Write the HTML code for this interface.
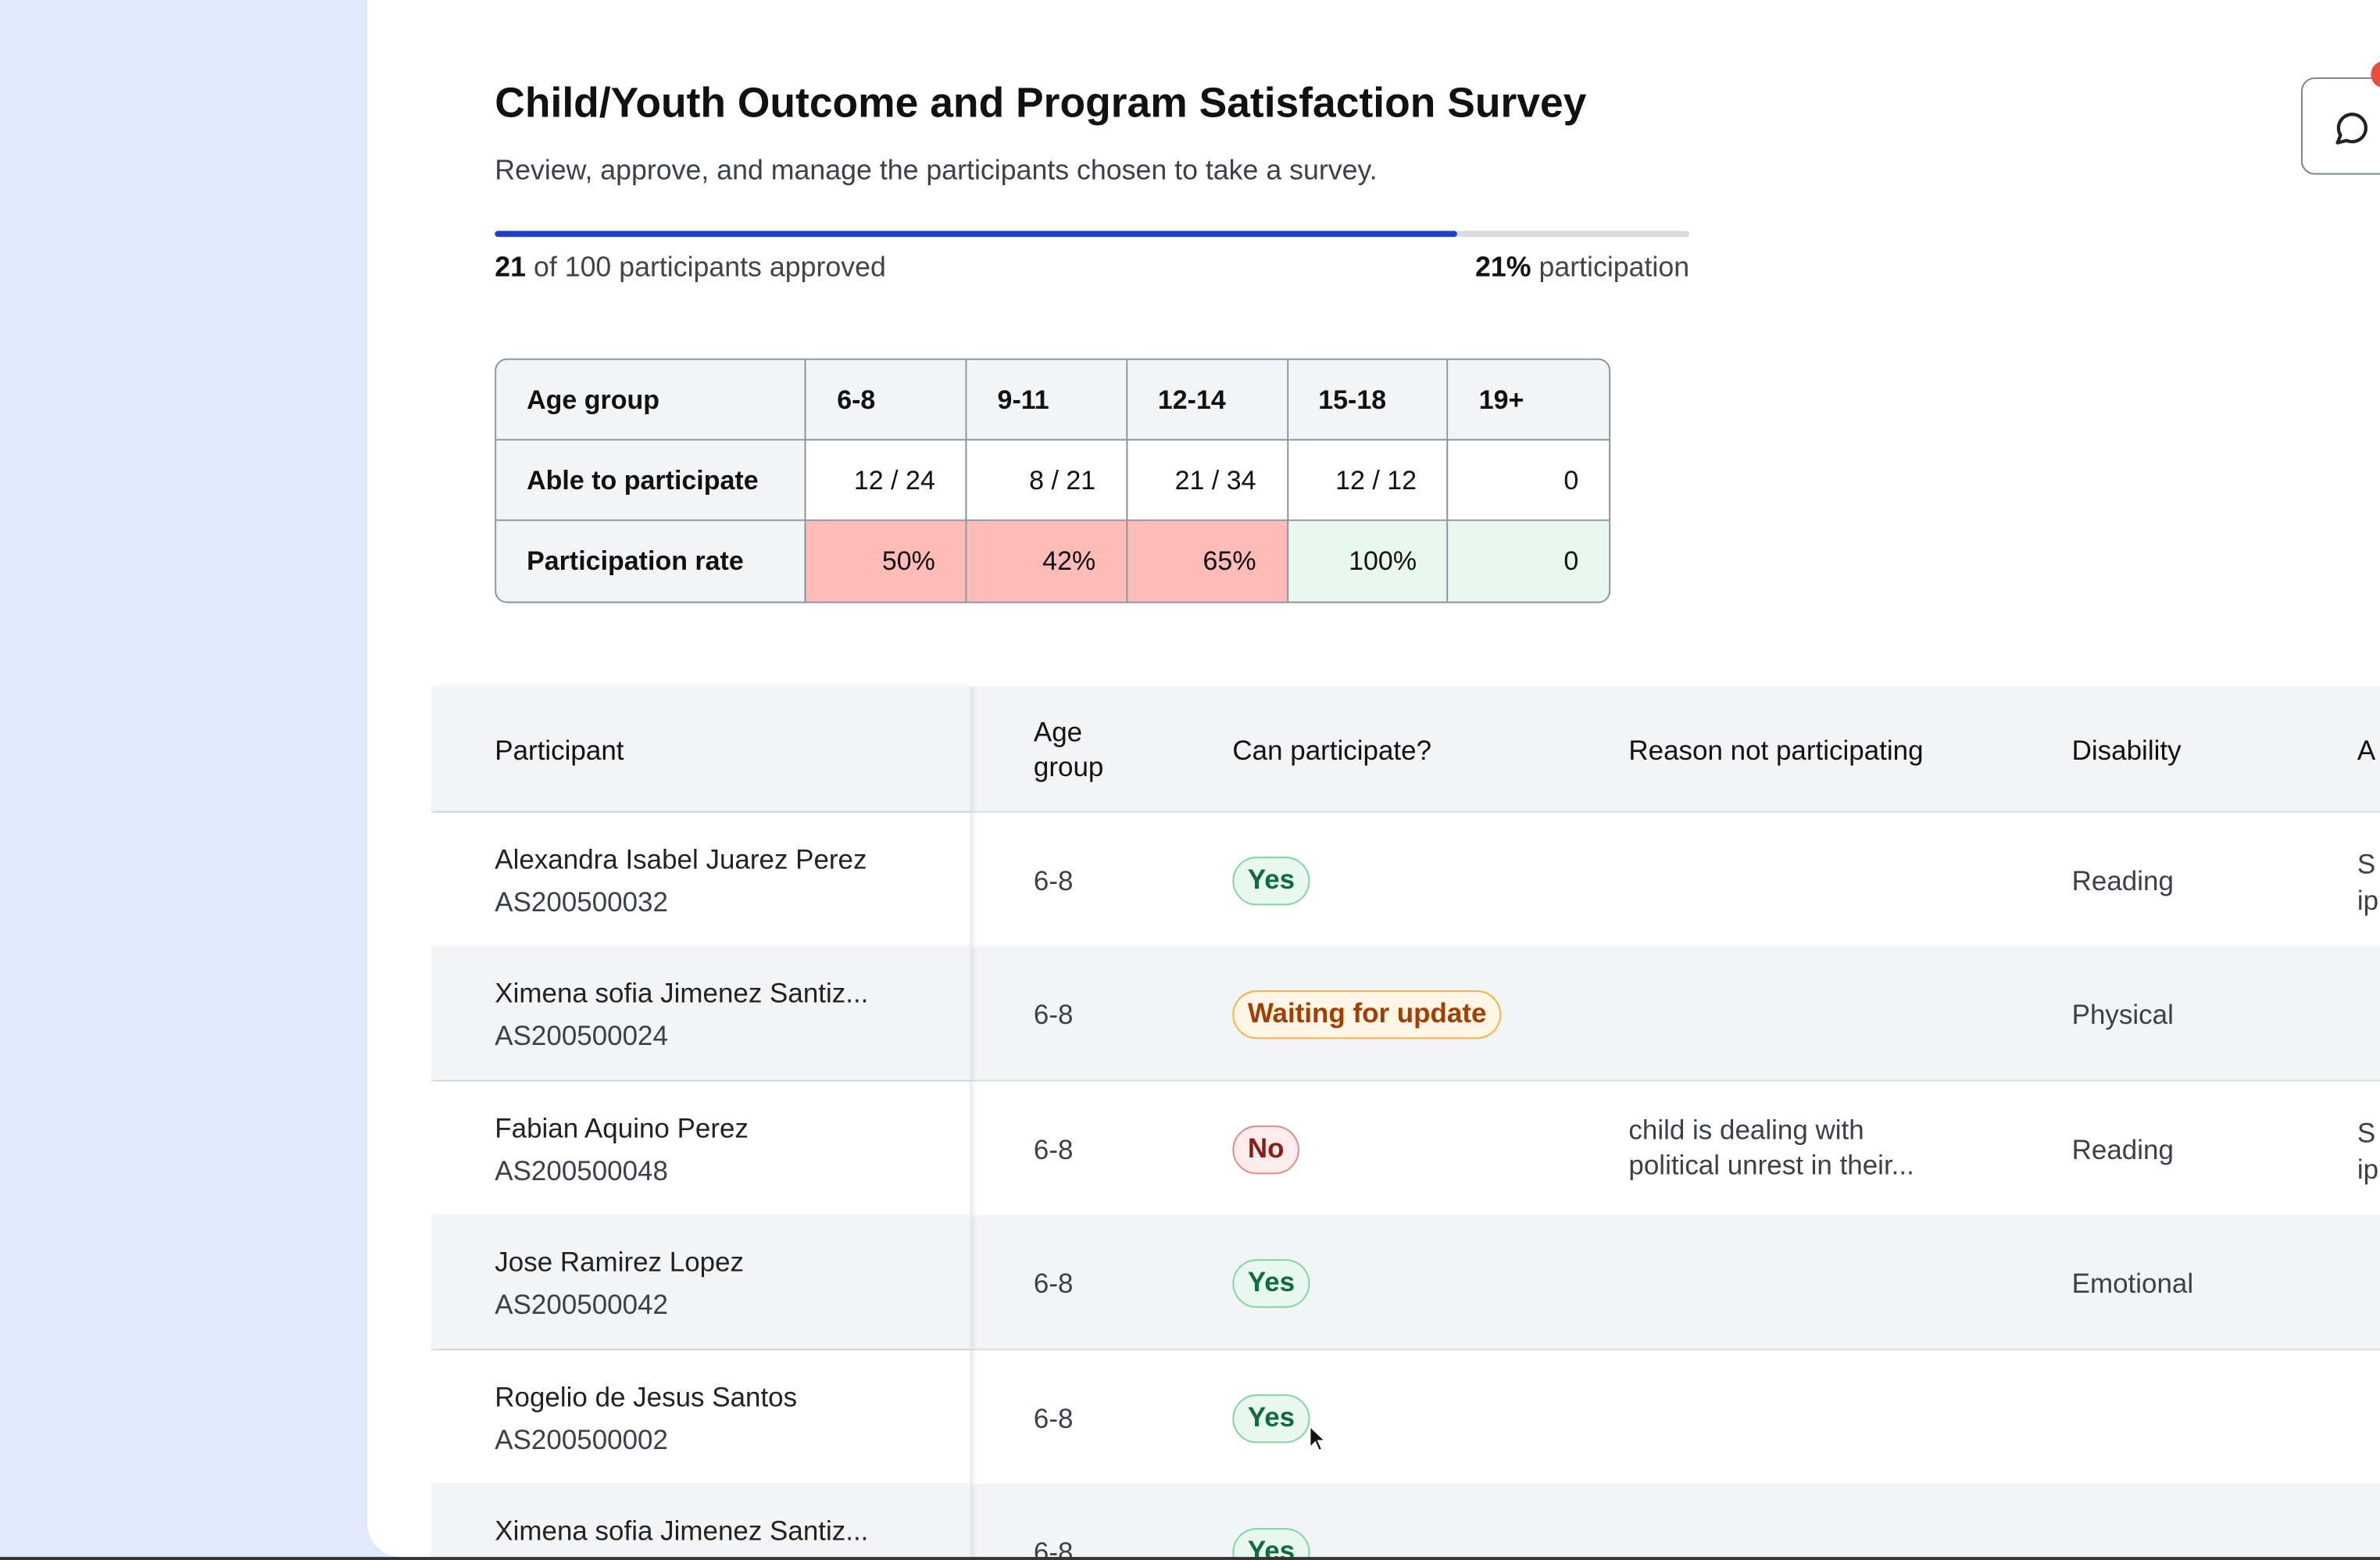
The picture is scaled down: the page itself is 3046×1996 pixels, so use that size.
<!DOCTYPE html>
<html><head><meta charset="utf-8">
<style>
*{box-sizing:border-box;margin:0;padding:0}
html,body{width:3046px;height:1996px;overflow:hidden;background:#dfe9fb;font-family:"Liberation Sans",sans-serif}
#w{position:absolute;left:0;top:0;width:1568px;height:1027px;transform:scale(1.9426,1.9435);transform-origin:0 0;overflow:hidden}
.abs{position:absolute}
#panel{left:242px;top:0;width:1400px;height:1025px;background:#fff;border-bottom-left-radius:22px;overflow:hidden}
#clip{left:0;top:0;width:1568px;height:1025px;overflow:hidden}
#bottomline{left:0;top:1025px;width:1568px;height:2px;background:#333;z-index:5}
h1{font-size:27.5px;font-weight:bold;color:#111;letter-spacing:0}
.st{font-size:18.4px;color:#3c4049}
.sm{border-collapse:separate;border-spacing:0;border:1px solid #8a909a;border-radius:8px;overflow:hidden;font-size:17.5px;color:#111}
.sm td{border-right:1px solid #8a909a;border-bottom:1px solid #8a909a;height:53px;padding:0 20px}
.sm tr td:last-child{border-right:none}
.sm tr:last-child td{border-bottom:none}
.sm .h{background:#f3f4f6;font-weight:bold}
.sm .n{text-align:right}
.pk{background:#fdbcb8}.gr{background:#e8f8ef}
.row{left:284px;width:1300px;height:89px;border-bottom:1.5px solid #d8dbe0;font-size:18px;color:#3c4049}
.row .c{position:absolute}
.sticky{position:absolute;left:0;top:0;width:356px;height:100%;box-shadow:2px 0 3px rgba(0,0,0,0.08);border-right:1px solid #e6e8eb}
.badge{position:absolute;height:32px;border-radius:16px;padding:0 9px;line-height:29px;font-size:18px;font-weight:bold;border:1.5px solid}
.yes{border-color:#7fd3a6;background:#e8f8ef;color:#0f6b3c}
.no{border-color:#e08a86;background:#fdeceb;color:#8c1d13}
.wt{border-color:#f5b04a;background:#fff6e5;color:#a33d00}
</style></head><body>
<div id="w">
<div class="abs" id="panel"></div>
<div class="abs" id="bottomline"></div>
<div class="abs" id="clip">
<h1 class="abs" style="left:326px;top:52px">Child/Youth Outcome and Program Satisfaction Survey</h1>
<div class="abs st" style="left:326px;top:101px">Review, approve, and manage the participants chosen to take a survey.</div>
<div class="abs" style="left:1516px;top:51px;width:70px;height:64px;border:1.5px solid #7a808a;border-radius:9px;background:#fff">
<svg width="30" height="30" viewBox="0 0 30 30" style="position:absolute;left:17px;top:17px"><path d="M6 25 L8 20 A9 9 0 1 1 12 23.5 Z" fill="none" stroke="#222" stroke-width="2.2" stroke-linejoin="round"/></svg></div>
<div class="abs" style="left:1562px;top:40px;width:18px;height:18px;border-radius:50%;background:#e84e3c"></div>

<div class="abs" style="left:326px;top:152px;width:787px;height:4px;background:#d9dbe0;border-radius:2px">
<div style="width:634px;height:4px;background:#1f3fcc;border-radius:2px"></div></div>
<div class="abs st" style="left:326px;top:165px;color:#444"><b style="color:#111">21</b> of 100 participants approved</div>
<div class="abs st" style="right:455px;top:165px;color:#444"><b style="color:#111">21%</b> participation</div>

<table class="abs sm" style="left:326px;top:236px;width:735px">
<colgroup><col style="width:205px"><col style="width:106px"><col style="width:106px"><col style="width:106px"><col style="width:106px"><col style="width:106px"></colgroup>
<tr><td class="h">Age group</td><td class="h">6-8</td><td class="h">9-11</td><td class="h">12-14</td><td class="h">15-18</td><td class="h">19+</td></tr>
<tr><td class="h">Able to participate</td><td class="n">12 / 24</td><td class="n">8 / 21</td><td class="n">21 / 34</td><td class="n">12 / 12</td><td class="n">0</td></tr>
<tr><td class="h">Participation rate</td><td class="n pk">50%</td><td class="n pk">42%</td><td class="n pk">65%</td><td class="n gr">100%</td><td class="n gr">0</td></tr>
</table>

<div class="abs row" style="top:452px;height:83px;background:#f3f4f6;color:#111">
<div class="sticky" style="background:#f3f4f6"></div>
<div class="c" style="left:42px;top:32px">Participant</div>
<div class="c" style="left:397px;top:19px;line-height:23px">Age<br>group</div>
<div class="c" style="left:528px;top:32px">Can participate?</div>
<div class="c" style="left:789px;top:32px">Reason not participating</div>
<div class="c" style="left:1081px;top:32px">Disability</div>
<div class="c" style="left:1269px;top:32px">A</div>
</div>

<div id="rows"></div>
<svg class="abs" style="left:862px;top:938px" width="14" height="20" viewBox="0 0 14 20"><path d="M1 1 L1 15 L4.5 11.5 L7 17 L9 16 L6.5 10.5 L11 10.5 Z" fill="#111" stroke="#fff" stroke-width="1"/></svg>
</div>
</div>
<script>
const names=["Alexandra Isabel Juarez Perez","Ximena sofia Jimenez Santiz...","Fabian Aquino Perez","Jose Ramirez Lopez","Rogelio de Jesus Santos","Ximena sofia Jimenez Santiz..."];
const ids=["AS200500032","AS200500024","AS200500048","AS200500042","AS200500002",""];
const status=["Yes","Waiting for update","No","Yes","Yes","Yes"];
const reasons=["","","child is dealing with<br>political unrest in their...","","",""];
const dis=["Reading","Physical","Reading","Emotional","",""];
const extra=["S<br>ip","","S<br>ip","","",""];
const host=document.getElementById('rows');
names.forEach((n,i)=>{
 const top=535+i*88.4, bg=i%2?'#f3f4f6':'#fff';
 const r=document.createElement('div');
 r.className='abs row';r.style.top=top+'px';r.style.background=bg;
 
 
 const cls=status[i]=='Yes'?'yes':status[i]=='No'?'no':'wt';
 r.innerHTML=`<div class="sticky" style="background:${bg}"></div>
 <div class="c" style="left:42px;top:21px;color:#222">${n}</div>
 <div class="c" style="left:42px;top:49px">${ids[i]}</div>
 <div class="c" style="left:397px;top:35px">6-8</div>
 <div class="badge ${cls}" style="left:528px;top:29px">${status[i]}</div>
 <div class="c" style="left:789px;top:21px;line-height:23px">${reasons[i]}</div>
 <div class="c" style="left:1081px;top:35px">${dis[i]}</div>
 <div class="c" style="left:1269px;top:22px;line-height:24px">${extra[i]}</div>`;
 host.appendChild(r);
});
</script>
</body></html>
